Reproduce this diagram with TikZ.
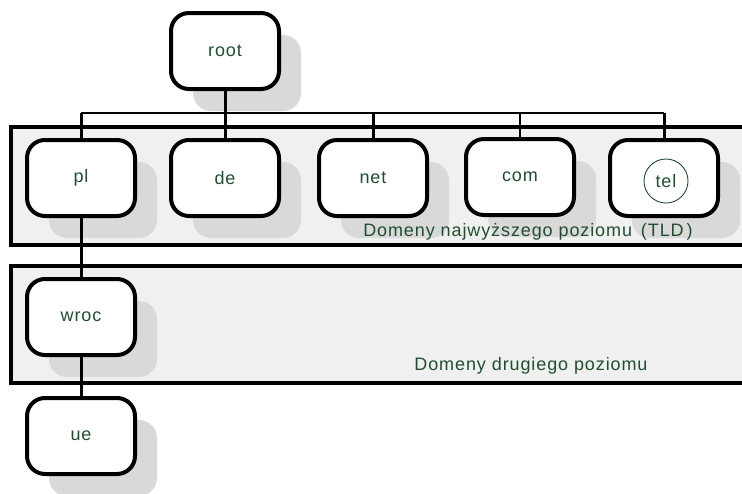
\documentclass[tikz,border=0pt]{standalone}
\usepackage{fontspec}
\setmainfont{Liberation Sans}[LetterSpace=5]
\usetikzlibrary{shadows,calc}
\definecolor{txtgreen}{HTML}{1F4F2F}
\definecolor{panelfill}{HTML}{F0F0F0}
\definecolor{shadowgray}{HTML}{D9D9D9}
\tikzset{
  dnode/.style={draw=black, line width=4pt, fill=white, rounded corners=18pt,
    minimum width=108pt, minimum height=76pt, inner sep=0pt,
    text=txtgreen, font=\fontsize{18}{21}\selectfont,
    drop shadow={shadow xshift=22pt, shadow yshift=-22pt, fill=shadowgray, opacity=1}},
  panel/.style={draw=black, line width=4pt, fill=panelfill},
  plabel/.style={text=txtgreen, font=\fontsize{18}{21}\selectfont, inner sep=0pt},
  conn/.style={draw=black, line width=3pt},
  busline/.style={draw=black, line width=1.6pt},
}
\begin{document}
\begin{tikzpicture}[x=1pt,y=-1pt]
\useasboundingbox (0,0) rectangle (742,493);
\clip (0,0) rectangle (742,493);
% panels
\draw[panel] (11,127) rectangle (770,245);
\draw[panel] (11,266) rectangle (770,383);
% nodes
\node[dnode] (root) at (225,51) {root};
\node[dnode] (pl) at (81,178) {pl};
\node[dnode] (de) at (225,178) {de};
\node[dnode] (net) at (373,178) {net};
\node[dnode] (com) at (520,177) {com};
\node[dnode] (tel) at (664,178) {};
\node[circle, draw=txtgreen, line width=0.9pt, minimum size=44pt, inner sep=0pt,
      text=txtgreen, font=\fontsize{18}{21}\selectfont] (telc) at (666,181) {tel};
\node[dnode] (wroc) at (81,317) {wroc};
\node[dnode] (ue) at (81,436) {ue};
% labels
\node[plabel] (tldlab) at (528,232) {Domeny najwyższego poziomu\ \,(TLD\,)};
\node[plabel] (sldlab) at (531,366) {Domeny drugiego poziomu};
% bus
\coordinate (busL) at (81,113);
\coordinate (busR) at (664,113);
\draw[busline] (busL) -- (busR);
\draw[conn] (root.south) -- (root.south |- busL);
\draw[conn] (pl.north) -- (pl.north |- busL);
\draw[conn] (de.north) -- (de.north |- busL);
\draw[conn] (net.north) -- (net.north |- busL);
\draw[busline] (com.north) -- (com.north |- busL);
\draw[conn] (tel.north) -- (tel.north |- busL);
\draw[conn] (pl.south) -- (wroc.north);
\draw[conn] (wroc.south) -- (ue.north);
\end{tikzpicture}
\end{document}
